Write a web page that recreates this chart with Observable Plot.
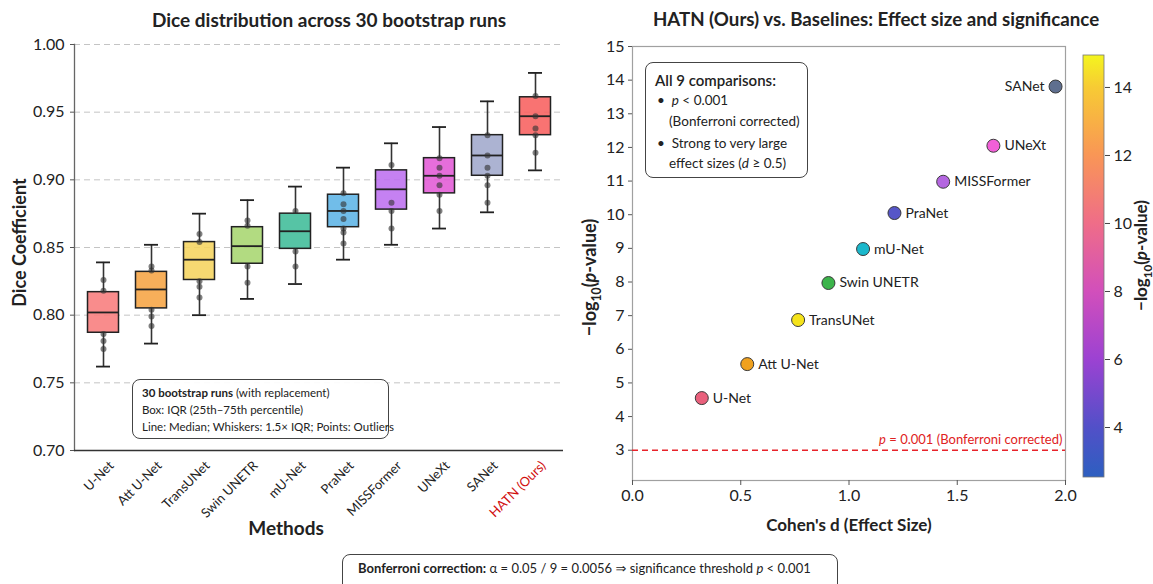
<!DOCTYPE html>
<html><head><meta charset="utf-8">
<script src="https://cdn.jsdelivr.net/npm/d3@7"></script>
<script src="https://cdn.jsdelivr.net/npm/@observablehq/plot@0.6"></script>
<style>
body{margin:0;background:#fff;font-family:Lato,"Noto Sans","DejaVu Sans",sans-serif;color:#222}
#root{position:relative;width:1153px;height:584px;overflow:hidden;background:#fff}
.abs{position:absolute}
.abs svg{display:block}
.box{position:absolute;border:1.3px solid #444;border-radius:8px;background:rgba(255,255,255,0.92);box-sizing:border-box}
.ln{position:absolute;white-space:nowrap;line-height:20px;height:20px}
</style></head><body><div id="root"></div>
<script>
// ---------- data: left panel (box plots) ----------
const methods = ["U-Net","Att U-Net","TransUNet","Swin UNETR","mU-Net","PraNet","MISSFormer","UNeXt","SANet","HATN (Ours)"];
const whiskerLow  = [0.762,0.779,0.800,0.812,0.823,0.841,0.852,0.864,0.876,0.907];
const q1          = [0.787,0.805,0.826,0.838,0.849,0.865,0.878,0.890,0.903,0.933];
const medians     = [0.802,0.819,0.841,0.851,0.862,0.877,0.893,0.903,0.918,0.947];
const q3          = [0.817,0.832,0.854,0.865,0.875,0.889,0.907,0.916,0.933,0.961];
const whiskerHigh = [0.839,0.852,0.875,0.885,0.895,0.909,0.927,0.939,0.958,0.979];
const pointValues = [
  [0.826,0.818,0.786,0.781,0.775],
  [0.836,0.833,0.804,0.799,0.792],
  [0.860,0.854,0.825,0.821,0.813],
  [0.870,0.866,0.836,0.824],
  [0.877,0.847,0.836],
  [0.890,0.882,0.877,0.871,0.864,0.861,0.853],
  [0.911,0.883,0.877,0.864],
  [0.916,0.909,0.903,0.896,0.889,0.877],
  [0.933,0.918,0.909,0.903,0.896,0.883],
  [0.962,0.947,0.938,0.933,0.920]
];
const boxColors = ["#f87c7c","#f6a443","#f5d45f","#a7d670","#3fbc98","#5db4e6","#bd70f0","#e25ad6","#a0a8cc","#f8605e"];
const yTicksL = [0.70,0.75,0.80,0.85,0.90,0.95,1.00];

// ---------- data: right panel (effect size vs significance) ----------
const baselines = ["U-Net","Att U-Net","TransUNet","Swin UNETR","mU-Net","PraNet","MISSFormer","UNeXt","SANet"];
const cohensD   = [0.32,0.53,0.765,0.905,1.065,1.21,1.435,1.667,1.954];
const negLogP   = [4.55,5.56,6.87,7.97,8.98,10.05,10.98,12.05,13.81];
const dotColors = ["#e9607c","#f0a11e","#f5e31a","#3cb44b","#1bb8cc","#5656c8","#b466e0","#f260d8","#5f6f8f"];
const yTicksR = [3,4,5,6,7,8,9,10,11,12,13,14,15];
const xTicksR = [0,0.5,1.0,1.5,2.0];
const threshold = 3;
const cbarDomain = [2.53, 14.94];
const cbarTicks = [4,6,8,10,12,14];
const cbarStopValues = [2.53,4,6,8,10,12,14,14.94];
const cbarStopColors = ["#2d5fc0","#5250c8","#9c42d2","#d24fbb","#ef6d88","#f99656","#f7cb34","#f4f51e"];

const FONT = "Lato, 'Noto Sans', 'DejaVu Sans', sans-serif";
const root = document.getElementById("root");
function place(node, left, top) {
  const d = document.createElement("div");
  d.className = "abs"; d.style.left = left + "px"; d.style.top = top + "px";
  d.appendChild(node); root.appendChild(d); return d;
}
function richText(svg, raw, parts, fs) {
  d3.select(svg).selectAll("text").each(function () {
    if (this.textContent !== raw) return;
    const t = d3.select(this);
    t.text(null);
    let shifted = 0;
    parts.forEach(p => {
      const s = t.append("tspan").text(p.t);
      if (p.italic) s.attr("font-style", "italic");
      if (p.sub) { s.attr("font-size", fs * 0.68).attr("dy", fs * 0.28); shifted = fs * 0.28; }
      else if (shifted) { s.attr("dy", -shifted); shifted = 0; }
    });
  });
}

// ---------- left plot ----------
const boxData = methods.map((m, i) => ({method: m, lo: whiskerLow[i], q1: q1[i], med: medians[i], q3: q3[i], hi: whiskerHigh[i], color: boxColors[i]}));
const ptData = methods.flatMap((m, i) => pointValues[i].map(v => ({method: m, v})));

const left = Plot.plot({
  width: 580, height: 545,
  marginLeft: 74, marginRight: 17, marginTop: 44, marginBottom: 95,
  style: {fontFamily: FONT, fontSize: "16px", color: "#222", background: "transparent", overflow: "visible"},
  x: {type: "band", domain: methods, padding: 0, axis: null},
  y: {domain: [0.70, 1.00], axis: null},
  color: {type: "identity"},
  marks: [
    Plot.gridY(yTicksL.slice(1), {stroke: "#c4c4c4", strokeOpacity: 1, strokeWidth: 1, strokeDasharray: "6,4"}),
    Plot.ruleX(boxData, {x: "method", y1: "q3", y2: "hi", stroke: "#333", strokeWidth: 1.6}),
    Plot.ruleX(boxData, {x: "method", y1: "lo", y2: "q1", stroke: "#333", strokeWidth: 1.6}),
    Plot.barY(boxData, {x: "method", y1: "q1", y2: "q3", fill: d => d.color, fillOpacity: 0.88, stroke: "#222", strokeWidth: 1.5, insetLeft: 8.5, insetRight: 8.5}),
    Plot.tickY(boxData, {x: "method", y: "med", stroke: "#222", strokeWidth: 1.8, insetLeft: 8.5, insetRight: 8.5}),
    Plot.tickY(boxData, {x: "method", y: "hi", stroke: "#222", strokeWidth: 1.8, insetLeft: 17, insetRight: 17}),
    Plot.tickY(boxData, {x: "method", y: "lo", stroke: "#222", strokeWidth: 1.8, insetLeft: 17, insetRight: 17}),
    Plot.dot(ptData, {x: "method", y: "v", r: 3, fill: "#333", fillOpacity: 0.62}),
    Plot.frame({anchor: "left", stroke: "#666", strokeWidth: 1.3}),
    Plot.ruleY([0.70], {stroke: "#333", strokeWidth: 1.3}),
    Plot.axisY(yTicksL, {tickFormat: d => d.toFixed(2), tickSize: 4, tickPadding: 6, fontSize: 16, stroke: "#555", label: null}),
    Plot.text(methods, {x: d => d, text: d => d, frameAnchor: "bottom", rotate: -45, textAnchor: "end", lineAnchor: "middle", dx: 8, dy: 13, fontSize: 13,
      fill: d => d === "HATN (Ours)" ? "#d10f0f" : "#222"}),
    Plot.text(["Dice distribution across 30 bootstrap runs"], {text: d => d, frameAnchor: "top", textAnchor: "middle", dx: 10, dy: -24, lineAnchor: "middle", fontSize: 19, fontWeight: "bold"}),
    Plot.text(["Methods"], {text: d => d, frameAnchor: "bottom", textAnchor: "middle", dx: -33, dy: 78, lineAnchor: "middle", fontSize: 19, fontWeight: "bold"}),
    Plot.text(["Dice Coefficient"], {text: d => d, frameAnchor: "left", textAnchor: "middle", dx: -54, dy: -5, rotate: -90, lineAnchor: "middle", fontSize: 18, fontWeight: "bold"})
  ]
});
place(left, 0, 0);

// ---------- right plot ----------
const scatter = baselines.map((n, i) => ({name: n, d: cohensD[i], nlp: negLogP[i], color: dotColors[i]}));
const right = Plot.plot({
  width: 573, height: 545,
  marginLeft: 52, marginRight: 88, marginTop: 46, marginBottom: 65,
  style: {fontFamily: FONT, fontSize: "16px", color: "#222", background: "transparent", overflow: "visible"},
  x: {domain: [0, 2.0], axis: null},
  y: {domain: [2.1, 15], axis: null},
  color: {type: "identity"},
  marks: [
    Plot.frame({stroke: "#a0a0a0", strokeWidth: 1.2}),
    Plot.axisY(yTicksR, {tickSize: 4, tickPadding: 4, fontSize: 16, stroke: "#555", label: null}),
    Plot.axisX(xTicksR, {tickFormat: d => d.toFixed(1), tickSize: 5, tickPadding: 4, fontSize: 16, stroke: "#555", label: null}),
    Plot.ruleY([threshold], {stroke: "#e8232b", strokeWidth: 1.5, strokeDasharray: "6,4"}),
    Plot.text(["p = 0.001 (Bonferroni corrected)"], {text: d => d, x: 2.0, y: threshold, dx: -3, dy: -10, textAnchor: "end", lineAnchor: "middle", fill: "#e02222", fontSize: 13}),
    Plot.dot(scatter, {x: "d", y: "nlp", r: 6.5, fill: d => d.color, stroke: "#3a3a3a", strokeWidth: 1}),
    Plot.text(scatter, {filter: d => d.name !== "SANet", x: "d", y: "nlp", text: "name", dx: 11, textAnchor: "start", fontSize: 14, fill: "#222"}),
    Plot.text(scatter, {filter: d => d.name === "SANet", x: "d", y: "nlp", text: "name", dx: -11, textAnchor: "end", fontSize: 14, fill: "#222"}),
    Plot.text(["HATN (Ours) vs. Baselines: Effect size and significance"], {text: d => d, frameAnchor: "top", textAnchor: "middle", dx: 27, dy: -26, lineAnchor: "middle", fontSize: 18.7, fontWeight: "bold"}),
    Plot.text(["Cohen's d (Effect Size)"], {text: d => d, frameAnchor: "bottom", textAnchor: "middle", dy: 45, lineAnchor: "middle", fontSize: 17, fontWeight: "bold"}),
    Plot.text(["-log10(p-value)"], {text: d => d, frameAnchor: "left", textAnchor: "middle", dx: -42, dy: 14, rotate: -90, lineAnchor: "middle", fontSize: 18, fontWeight: "bold"})
  ]
});
richText(right, "-log10(p-value)", [{t: "\u2212log"}, {t: "10", sub: true}, {t: "("}, {t: "p", italic: true}, {t: "-value)"}], 18);
richText(right, "p = 0.001 (Bonferroni corrected)", [{t: "p", italic: true}, {t: " = 0.001 (Bonferroni corrected)"}], 13);
place(right, 580, 0);

// ---------- colorbar ----------
const cbar = Plot.plot({
  width: 80, height: 545,
  marginLeft: 10, marginRight: 49, marginTop: 55, marginBottom: 68,
  style: {fontFamily: FONT, fontSize: "16px", color: "#222", background: "transparent", overflow: "visible"},
  x: {domain: [0, 1], axis: null},
  y: {domain: cbarDomain, axis: null},
  marks: [
    Plot.rect([cbarDomain], {x1: 0, x2: 1, y1: d => d[0], y2: d => d[1], fill: "url(#cbgrad)", stroke: "#777", strokeWidth: 0.8}),
    Plot.axisY(cbarTicks, {anchor: "right", tickSize: 5, tickPadding: 4, fontSize: 16, stroke: "#444", label: null}),
    Plot.text(["-log10(p-value)"], {text: d => d, frameAnchor: "right", textAnchor: "middle", dx: 37, dy: -11, rotate: -90, lineAnchor: "middle", fontSize: 17, fontWeight: "bold"})
  ]
});
const grad = d3.select(cbar).append("defs").append("linearGradient").attr("id", "cbgrad")
  .attr("x1", 0).attr("y1", 1).attr("x2", 0).attr("y2", 0);
cbarStopValues.forEach((v, i) => grad.append("stop")
  .attr("offset", (v - cbarDomain[0]) / (cbarDomain[1] - cbarDomain[0]))
  .attr("stop-color", cbarStopColors[i]));
richText(cbar, "-log10(p-value)", [{t: "\u2212log"}, {t: "10", sub: true}, {t: "("}, {t: "p", italic: true}, {t: "-value)"}], 17);
place(cbar, 1073, 0);

// ---------- annotation boxes ----------
function box(left, top, w, h, lines, fs) {
  const b = document.createElement("div");
  b.className = "box";
  Object.assign(b.style, {left: left + "px", top: top + "px", width: w + "px", height: h + "px", fontSize: fs + "px"});
  lines.forEach(([x, yc, html, extra]) => {
    const l = document.createElement("div");
    l.className = "ln"; l.style.left = x + "px"; l.style.top = (yc - 10) + "px";
    if (extra) Object.assign(l.style, extra);
    l.innerHTML = html; b.appendChild(l);
  });
  root.appendChild(b);
}
box(132, 379, 257, 60, [
  [9, 13, "<b>30 bootstrap runs</b> (with replacement)"],
  [9, 30, "Box: IQR (25th\u201375th percentile)"],
  [9, 47, "Line: Median; Whiskers: 1.5\u00d7 IQR; Points: Outliers"]
], 11.5);
box(645, 62, 163, 116, [
  [9, 17, "All 9 comparisons:", {fontSize: "15px", fontWeight: "600"}],
  [11, 37, "\u2022&nbsp; <i>p</i> &lt; 0.001"],
  [23, 58, "(Bonferroni corrected)"],
  [11, 80, "\u2022&nbsp; Strong to very large"],
  [23, 100, "effect sizes (<i>d</i> \u2265 0.5)"]
], 13.5);
box(342, 554, 496, 45, [
  [15, 13, "<b>Bonferroni correction:</b> \u03b1 = 0.05 / 9 = 0.0056 \u21d2 significance threshold <i>p</i> &lt; 0.001"]
], 13);
</script></body></html>
